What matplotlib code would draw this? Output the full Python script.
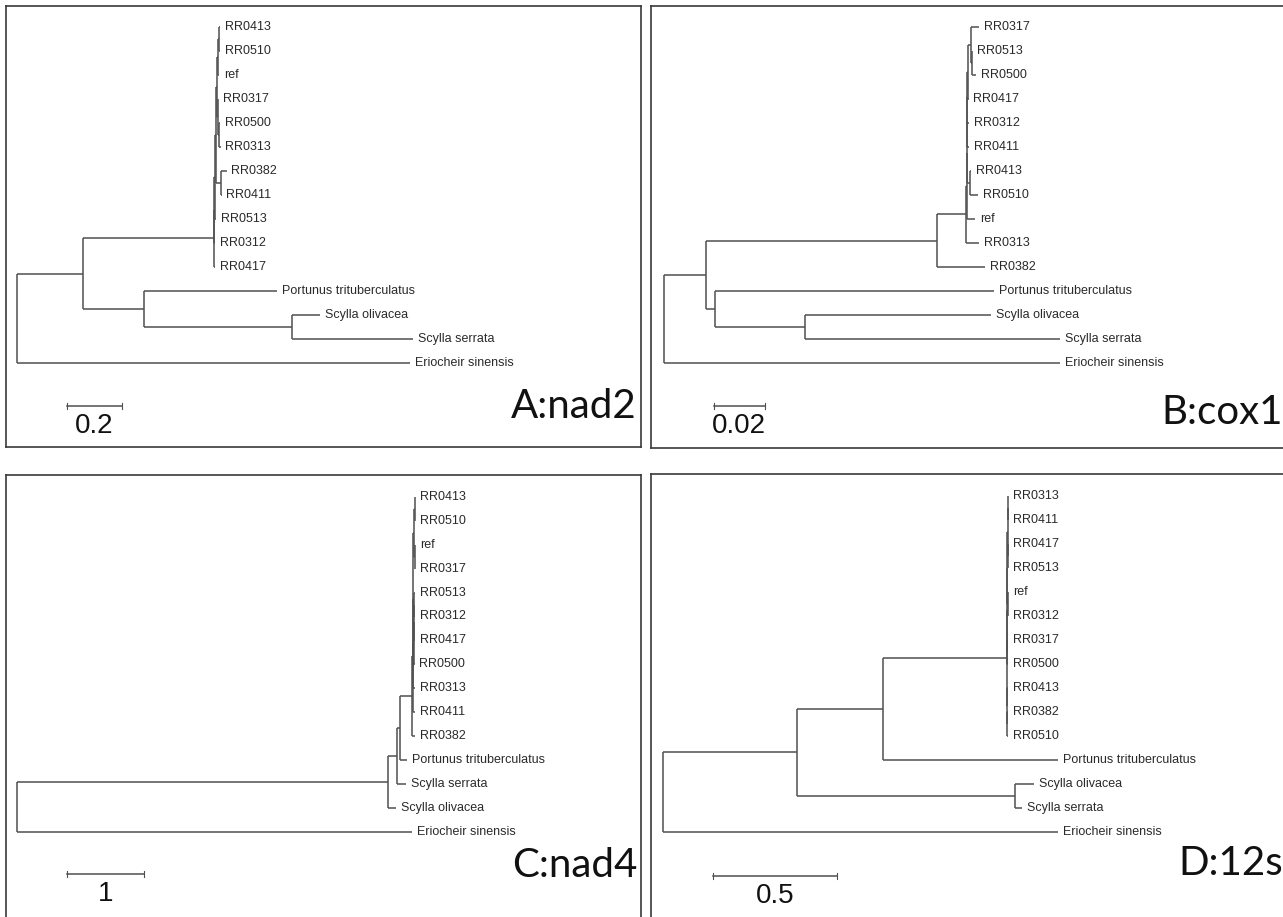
import matplotlib
matplotlib.use('Agg')
import matplotlib.pyplot as plt

# Neighbour-joining trees for the four mitochondrial markers (Newick, branch lengths = substitutions/site)
nad2_tree = ("(((((((((RR0413:0.002,RR0510:0.003):0.004,ref:0.002):0.004,"
             "(RR0317:0.002,(RR0500:0.004,RR0313:0.006):0.004):0.002):0.004,"
             "(RR0382:0.02,RR0411:0.002):0.018):0.004,RR0513:0.003):0.002,RR0312:0.003):0.002,"
             "RR0417:0.004):0.476,(Portunus trituberculatus:0.484,"
             "(Scylla olivacea:0.102,Scylla serrata:0.44):0.538):0.222):0.240,Eriocheir sinensis:1.429);")

cox1_tree = ("((((((((((RR0317:0.0033,(RR0513:0.0002,RR0500:0.0016):0.0005):0.001,RR0417:0.0002):0.0002,"
             "RR0312:0.0005):0.0001,RR0411:0.0007):0.0001,(RR0413:0.0004,RR0510:0.0031):0.0012):0.0001,"
             "ref:0.0033):0.0001,RR0313:0.0049):0.0114,RR0382:0.0186):0.0909,"
             "(Portunus trituberculatus:0.1095,(Scylla olivacea:0.0728,Scylla serrata:0.0999):0.0355):0.0035):0.0162,"
             "Eriocheir sinensis:0.1552);")

nad4_tree = ("(((((((((RR0413:0.01,RR0510:0.012):0.007,(ref:0.01,RR0317:0.012):0.007):0.013,"
             "((((RR0513:0.01,RR0312:0.01):0.004,RR0417:0.012):0.004,RR0500:0.012):0.004,RR0313:0.02):0.004):0.004,"
             "RR0411:0.026):0.004,RR0382:0.033):0.161,Portunus trituberculatus:0.092):0.04,"
             "Scylla serrata:0.118):0.118,Scylla olivacea:0.105):4.856,Eriocheir sinensis:5.17);")

s12_tree = ("((((((((RR0313:0.002,RR0411:0.002):0.001,(RR0417:0.002,RR0513:0.002):0.001):0.001,"
            "(ref:0.002,RR0312:0.002):0.001):0.001,(RR0317:0.002,RR0500:0.002):0.001):0.001,"
            "(RR0413:0.003,(RR0382:0.004,RR0510:0.002):0.001):0.001):0.501,"
            "Portunus trituberculatus:0.708):0.344,(Scylla olivacea:0.078,Scylla serrata:0.029):0.877):0.543,"
            "Eriocheir sinensis:1.594);")

trees = [nad2_tree, cox1_tree, nad4_tree, s12_tree]
panel_titles = ['A:nad2', 'B:cox1', 'C:nad4', 'D:12s']
scale_lengths = [0.2, 0.02, 1, 0.5]
scale_labels = ['0.2', '0.02', '1', '0.5']

W, H = 1283, 917
# panel frame (px), root x (px), px per unit, first row y (px), row step (px)
panels = [
    dict(box=(6, 6, 641, 447), root=17, ppu=275, row0=27, dy=24, bar=(67, 406), title=(637, 418)),
    dict(box=(651, 6, 1300, 448), root=664.3, ppu=2550, row0=27, dy=24, bar=(713.5, 406), title=(1283, 424)),
    dict(box=(6, 475, 641, 940), root=16.5, ppu=76.5, row0=497, dy=23.9, bar=(67, 874), title=(637, 877)),
    dict(box=(651, 474, 1300, 940), root=662.7, ppu=248, row0=496, dy=24, bar=(712.7, 876), title=(1283, 875)),
]

LINE = '#505050'
TEXT = '#2a2a2a'


def parse_newick(s):
    s = s.strip().rstrip(';')
    pos = 0

    def node():
        nonlocal pos
        children = []
        if s[pos] == '(':
            pos += 1
            children.append(node())
            while s[pos] == ',':
                pos += 1
                children.append(node())
            pos += 1  # closing ')'
        start = pos
        while pos < len(s) and s[pos] not in ':,)':
            pos += 1
        name = s[start:pos]
        length = 0.0
        if pos < len(s) and s[pos] == ':':
            pos += 1
            start = pos
            while pos < len(s) and s[pos] not in ',)':
                pos += 1
            length = float(s[start:pos])
        return {'name': name, 'length': length, 'children': children}

    return node()


def layout(tree):
    counter = [0]

    def walk(n, x):
        n['x'] = x
        if not n['children']:
            n['y'] = counter[0]
            counter[0] += 1
        else:
            for c in n['children']:
                walk(c, x + c['length'])
            n['y'] = (n['children'][0]['y'] + n['children'][-1]['y']) / 2
    walk(tree, 0.0)


def draw_tree(ax, n):
    if not n['children']:
        ax.annotate(n['name'], (n['x'], n['y']), xytext=(3.5, 0), textcoords='offset points',
                    va='center', ha='left', fontsize=9, color=TEXT, family='Liberation Sans')
        return
    ax.plot([n['x'], n['x']], [n['children'][0]['y'], n['children'][-1]['y']],
            color=LINE, lw=1.1, solid_capstyle='butt')
    for c in n['children']:
        ax.plot([n['x'], c['x']], [c['y'], c['y']], color=LINE, lw=1.1, solid_capstyle='butt')
        draw_tree(ax, c)


fig = plt.figure(figsize=(W / 100, H / 100), dpi=100)
fig.patch.set_facecolor('white')

for tree_str, title, blen, blab, p in zip(trees, panel_titles, scale_lengths, scale_labels, panels):
    x0, y0, x1, y1 = p['box']
    ax = fig.add_axes([x0 / W, 1 - y1 / H, (x1 - x0) / W, (y1 - y0) / H])
    ax.set_xlim((x0 - p['root']) / p['ppu'], (x1 - p['root']) / p['ppu'])
    ax.set_ylim((y1 - p['row0']) / p['dy'], (y0 - p['row0']) / p['dy'])
    ax.set_xticks([])
    ax.set_yticks([])
    for sp in ax.spines.values():
        sp.set_color('#3a3a3a')
        sp.set_linewidth(1.2)

    tree = parse_newick(tree_str)
    layout(tree)
    draw_tree(ax, tree)

    # scale bar
    bx = (p['bar'][0] - p['root']) / p['ppu']
    by = (p['bar'][1] - p['row0']) / p['dy']
    tick = 3 / p['dy']
    ax.plot([bx, bx + blen], [by, by], color=LINE, lw=1.1)
    ax.plot([bx, bx], [by - tick, by + tick], color=LINE, lw=0.8)
    ax.plot([bx + blen, bx + blen], [by - tick, by + tick], color=LINE, lw=0.8)
    ax.annotate(blab, (bx + blen / 2, by), xytext=(0, -5), textcoords='offset points',
                ha='center', va='top', fontsize=20, color='#111111', family='Liberation Sans')

    tx, ty = p['title']
    fig.text(tx / W, 1 - ty / H, title, ha='right', va='baseline', fontsize=29,
             family='Lato', color='#111111')

fig.savefig('out.png', dpi=100, facecolor='white')
